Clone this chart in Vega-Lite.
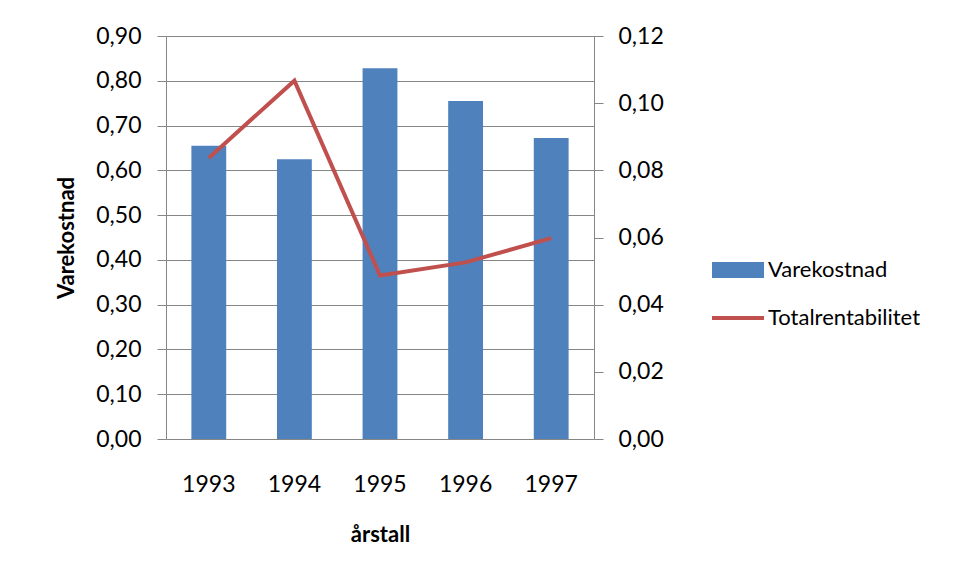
{
  "$schema": "https://vega.github.io/schema/vega-lite/v6.json",
  "width": 428,
  "height": 403,
  "autosize": {"type": "none"},
  "padding": {"left": 166, "top": 36, "right": 362, "bottom": 136},
  "background": "white",
  "config": {
    "view": {"stroke": null},
    "font": "Lato",
    "axis": {
      "labelFont": "Lato",
      "labelFontSize": 23,
      "labelColor": "#000000",
      "titleFont": "Lato",
      "titleFontSize": 22,
      "titleFontWeight": "bold",
      "titleColor": "#000000",
      "domainColor": "#868686",
      "tickColor": "#868686",
      "gridColor": "#868686",
      "gridOpacity": 1,
      "domainWidth": 1,
      "tickWidth": 1,
      "gridWidth": 1
    }
  },
  "data": {
    "values": [
      {"year": "1993", "Varekostnad": 0.655, "Totalrentabilitet": 0.0837},
      {"year": "1994", "Varekostnad": 0.625, "Totalrentabilitet": 0.1067},
      {"year": "1995", "Varekostnad": 0.828, "Totalrentabilitet": 0.0487},
      {"year": "1996", "Varekostnad": 0.755, "Totalrentabilitet": 0.0526},
      {"year": "1997", "Varekostnad": 0.672, "Totalrentabilitet": 0.0598}
    ]
  },
  "encoding": {
    "x": {
      "field": "year",
      "type": "ordinal",
      "scale": {"paddingInner": 0.593, "paddingOuter": 0.2965},
      "axis": {
        "title": "årstall",
        "labelAngle": 0,
        "ticks": false,
        "tickSize": 0,
        "domain": false,
        "labelPadding": 34,
        "titlePadding": 28
      }
    }
  },
  "layer": [
    {
      "mark": {"type": "bar"},
      "encoding": {
        "y": {
          "field": "Varekostnad",
          "type": "quantitative",
          "scale": {"domain": [0, 0.9], "nice": false},
          "axis": {
            "title": "Varekostnad",
            "values": [0, 0.1, 0.2, 0.3, 0.4, 0.5, 0.6, 0.7, 0.8, 0.9],
            "labelExpr": "replace(format(datum.value, '.2f'), '.', ',')",
            "grid": true,
            "tickSize": 9,
            "labelPadding": 16,
            "titlePadding": 17
          }
        },
        "color": {
          "datum": "Varekostnad",
          "type": "nominal",
          "scale": {
            "domain": ["Varekostnad", "Totalrentabilitet"],
            "range": ["#4F81BD", "#C0504D"]
          },
          "legend": {
            "title": null,
            "orient": "none",
            "legendX": 561,
            "legendY": 223,
            "padding": 0,
            "symbolSize": 256,
            "labelFont": "Lato",
            "labelFontSize": 22,
            "labelColor": "#000000",
            "labelOffset": 19,
            "rowPadding": 26,
            "encode": {
              "symbols": {
                "update": {
                  "shape": {"signal": "datum.value === 'Varekostnad' ? 'M-3.25,-1H3.25V1H-3.25Z' : 'M-3.25,-0.25H3.25V0.25H-3.25Z'"},
                  "fill": {"scale": "color", "field": "value"},
                  "stroke": {"value": "transparent"},
                  "strokeWidth": {"value": 0},
                  "opacity": {"value": 1},
                  "fillOpacity": {"value": 1}
                }
              }
            }
          }
        }
      }
    },
    {
      "mark": {"type": "line", "strokeWidth": 4},
      "encoding": {
        "y": {
          "field": "Totalrentabilitet",
          "type": "quantitative",
          "scale": {"domain": [0, 0.12], "nice": false},
          "axis": {
            "orient": "right",
            "title": null,
            "values": [0, 0.02, 0.04, 0.06, 0.08, 0.1, 0.12],
            "labelExpr": "replace(format(datum.value, '.2f'), '.', ',')",
            "grid": false,
            "tickSize": 9,
            "labelPadding": 15
          }
        },
        "color": {"datum": "Totalrentabilitet", "type": "nominal"}
      }
    }
  ],
  "resolve": {"scale": {"y": "independent"}}
}
